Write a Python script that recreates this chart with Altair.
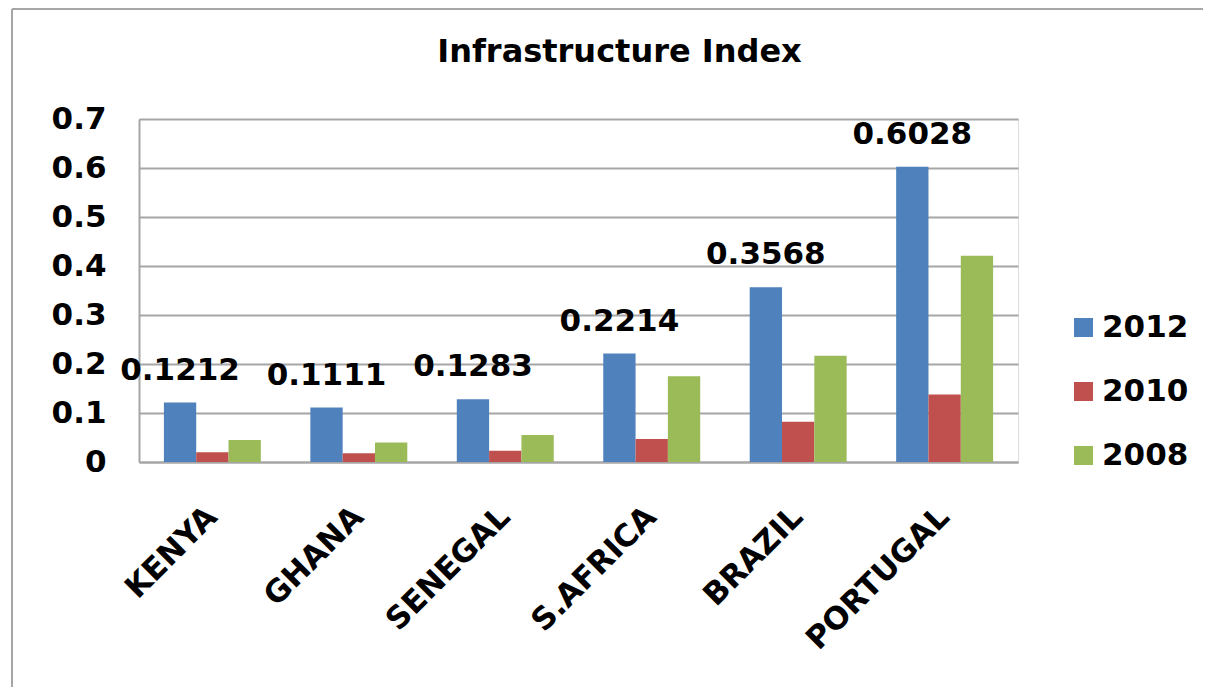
import altair as alt
import pandas as pd

countries = ["KENYA", "GHANA", "SENEGAL", "S.AFRICA", "BRAZIL", "PORTUGAL"]
years = ["2012", "2010", "2008"]
v2012 = [0.1212, 0.1111, 0.1283, 0.2214, 0.3568, 0.6028]
v2010 = [0.020, 0.018, 0.023, 0.047, 0.082, 0.138]
v2008 = [0.045, 0.040, 0.055, 0.175, 0.217, 0.421]
colors = ["#4F81BD", "#C0504D", "#9BBB59"]
y_ticks = [0, 0.1, 0.2, 0.3, 0.4, 0.5, 0.6, 0.7]

rows = []
for yr, vals in zip(years, [v2012, v2010, v2008]):
    for c, v in zip(countries, vals):
        rows.append({"country": c, "year": yr, "value": v})
df = pd.DataFrame(rows)

FONT = "DejaVu Sans"
PW, PH = 879, 343

x_enc = alt.X("country:N", sort=countries, title=None,
              scale=alt.Scale(paddingInner=0.338, paddingOuter=0.17),
              axis=alt.Axis(labelAngle=-45, labelAlign="right", labelBaseline="middle",
                            labelPadding=50, ticks=False, labelFont=FONT, labelFontSize=31,
                            labelFontWeight="bold", labelColor="#000000", labelLimit=0,
                            domainColor="#A6A6A6", domainWidth=2, grid=False))
xo_enc = alt.XOffset("year:N", sort=years, scale=alt.Scale(domain=years))

bars = alt.Chart(df).mark_bar().encode(
    x=x_enc,
    xOffset=xo_enc,
    y=alt.Y("value:Q", title=None,
            scale=alt.Scale(domain=[0, 0.7], nice=False),
            axis=alt.Axis(values=y_ticks, ticks=False, labelPadding=33,
                          labelExpr="datum.value == 0 ? '0' : format(datum.value, '.1f')",
                          labelFont=FONT, labelFontSize=31, labelFontWeight="bold",
                          labelColor="#000000", domainColor="#A6A6A6", domainWidth=2,
                          gridColor="#A6A6A6", gridWidth=2)),
    color=alt.Color("year:N", sort=years,
                    scale=alt.Scale(domain=years, range=colors),
                    legend=alt.Legend(title=None, orient="none", legendX=929, legendY=193,
                                      symbolType="square", symbolSize=361,
                                      symbolStrokeWidth=0, labelFont=FONT,
                                      labelFontSize=31, labelFontWeight="bold",
                                      labelColor="#000000", rowPadding=32,
                                      labelOffset=3, padding=0)),
)

labels = alt.Chart(df).transform_filter(alt.datum.year == "2012").mark_text(
    font=FONT, fontSize=31, fontWeight="bold", color="#000000",
    baseline="alphabetic", dy=-23
).encode(
    x=alt.X("country:N", sort=countries),
    xOffset=xo_enc,
    y="value:Q",
    text=alt.Text("value:Q", format=".4f"),
)

frame_top = alt.Chart(df).mark_rule(color="#A6A6A6", strokeWidth=2).encode(
    x=alt.value(-127), x2=alt.value(1080), y=alt.value(-110))
frame_left = alt.Chart(df).mark_rule(color="#A6A6A6", strokeWidth=2).encode(
    x=alt.value(-127), y=alt.value(-110), y2=alt.value(580))

chart = alt.layer(frame_top, frame_left, bars, labels).properties(
    width=PW, height=PH,
    title=alt.TitleParams("Infrastructure Index", font=FONT, fontSize=32,
                          fontWeight="bold", color="#000000", anchor="middle",
                          baseline="alphabetic", dx=41, offset=-86),
    autosize=alt.AutoSizeParams(type="none"),
    padding={"left": 131, "top": 111, "right": 185, "bottom": 225},
).configure_view(stroke=None).configure(background="#FFFFFF")

chart.save("out.html", embed_options={"renderer": "svg", "actions": False})
